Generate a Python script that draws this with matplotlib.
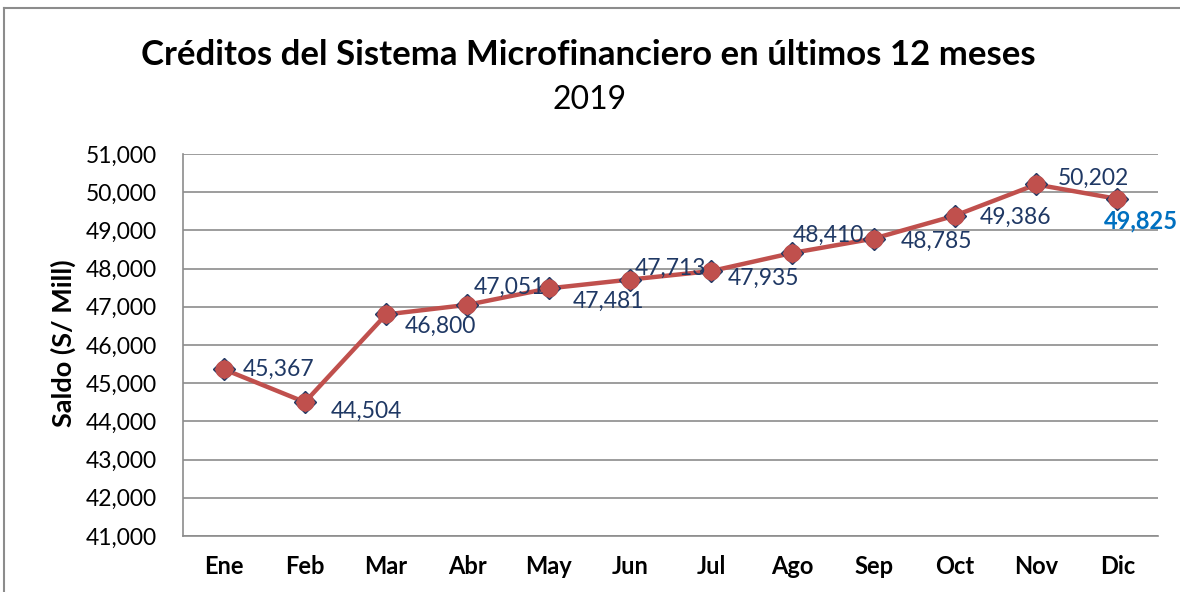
import matplotlib
matplotlib.use("Agg")
import matplotlib.pyplot as plt
from matplotlib.lines import Line2D

# datos
meses = ["Ene", "Feb", "Mar", "Abr", "May", "Jun", "Jul", "Ago", "Sep", "Oct", "Nov", "Dic"]
saldo = [45367, 44504, 46800, 47051, 47481, 47713, 47935, 48410, 48785, 49386, 50202, 49825]
yticks = list(range(41000, 51001, 1000))

# desplazamiento de las etiquetas (pixeles)
offsets = [(19, 0), (26, -9), (19, -12), (6, 18), (24, -13), (5, 11),
           (17, -7), (0, 18), (27, -3), (25, -2), (22, 6), (-13, -22)]

plt.rcParams['font.family'] = ['Lato', 'DejaVu Sans']

fig = plt.figure(figsize=(11.8, 5.92), dpi=100)
ax = fig.add_axes([183/1180, 1-536/592, (1158-183)/1180, (536-154)/592])

x = list(range(len(meses)))
ax.plot(x, saldo, color='#C0504D', linewidth=3.2, marker='D', markersize=11,
        markerfacecolor='#C0504D', markeredgecolor='#1F3864', markeredgewidth=1.0, zorder=3)
ax.plot(x, saldo, linestyle='none', marker='o', markersize=12,
        color='#C0504D', zorder=4)

for i, v in enumerate(saldo):
    dx, dy = offsets[i]
    if i == len(saldo) - 1:
        col, fw, fs = '#0070C0', 'bold', 17
    else:
        col, fw, fs = '#1F3864', 'normal', 16.5
    ax.annotate(f"{v:,}", (i, v), xytext=(dx, dy), textcoords='offset pixels',
                ha='left', va='center', fontsize=fs, color=col, fontweight=fw, zorder=5)

ax.set_xlim(-0.5, len(meses) - 0.5)
ax.set_ylim(41000, 51000)
ax.set_yticks(yticks)
ax.set_yticklabels([f"{t:,}" for t in yticks], fontsize=16.5)
ax.set_xticks(x)
ax.set_xticklabels(meses, fontsize=17, fontweight='bold')
ax.tick_params(axis='y', length=0, pad=19)
ax.tick_params(axis='x', length=0, pad=14)
ax.grid(axis='y', color='#8C8C8C', linewidth=1.2)
ax.set_axisbelow(True)
for s in ['top', 'right']:
    ax.spines[s].set_visible(False)
for s in ['left', 'bottom']:
    ax.spines[s].set_color('#8C8C8C')
    ax.spines[s].set_linewidth(1.2)

ax.set_ylabel("Saldo (S/ Mill)", fontsize=19.5, fontweight='bold')
ax.yaxis.set_label_coords(76/1180, 1-343/592, transform=fig.transFigure)

fig.text(588/1180, 1-55/592, "Créditos del Sistema Microfinanciero en últimos 12 meses",
         ha='center', va='center', fontsize=25, fontweight='bold')
fig.text(590/1180, 1-100/592, "2019", ha='center', va='center', fontsize=23)

# borde del grafico
fig.add_artist(Line2D([4/1180, 1], [1-8/592, 1-8/592], transform=fig.transFigure,
                      color='#8C8C8C', linewidth=1.5))
fig.add_artist(Line2D([4/1180, 4/1180], [0, 1-8/592], transform=fig.transFigure,
                      color='#8C8C8C', linewidth=1.5))

fig.savefig("out.png", dpi=100)
